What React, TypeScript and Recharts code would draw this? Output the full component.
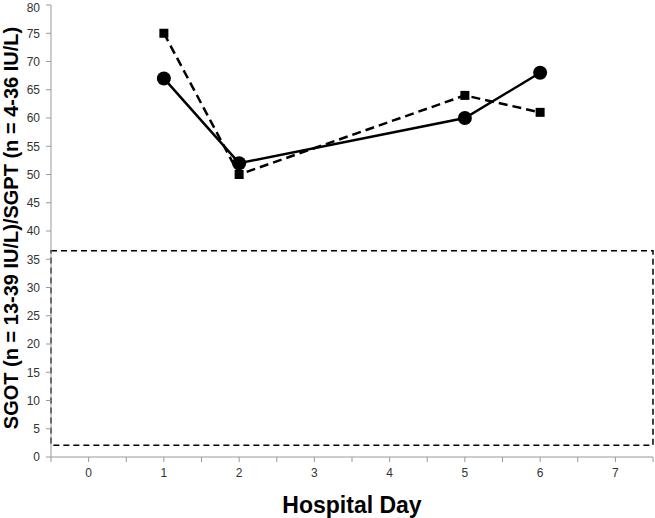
import { LineChart, Line, XAxis, YAxis, ReferenceArea } from 'recharts';

const days = [1, 2, 5, 6];
const sgot = [67, 52, 60, 68];
const sgpt = [75, 50, 64, 61];
const normalBand = [2.1, 36.5];
const xTicks = [-0.5, 0, 0.5, 1, 1.5, 2, 2.5, 3, 3.5, 4, 4.5, 5, 5.5, 6, 6.5, 7, 7.5];
const yTicks = [0, 5, 10, 15, 20, 25, 30, 35, 40, 45, 50, 55, 60, 65, 70, 75, 80];

const data = days.map((d, i) => ({ day: d, sgot: sgot[i], sgpt: sgpt[i] }));

const FONT = '"Liberation Sans", Arial, sans-serif';

function SquareDot({ cx, cy }: { cx?: number; cy?: number }) {
  if (cx == null || cy == null) return null;
  return <rect x={cx - 4.5} y={cy - 4.5} width={9} height={9} fill="#000" />;
}

export default function App() {
  return (
    <div style={{ position: 'absolute', left: 0, top: 0, background: '#fff' }}>
      <LineChart
        width={655}
        height={518}
        data={data}
        margin={{ top: 5, right: 2, bottom: 0, left: 0 }}
        style={{ fontFamily: FONT }}
      >
        <XAxis
          dataKey="day"
          type="number"
          domain={[-0.5, 7.5]}
          ticks={xTicks}
          tickFormatter={(v: number) => (Number.isInteger(v) ? String(v) : '')}
          height={61}
          stroke="#999"
          tickSize={5}
          tickMargin={6}
          tick={{ fill: '#333', fontSize: 12 }}
          allowDataOverflow
          label={{
            value: 'Hospital Day',
            position: 'insideBottom',
            offset: 5,
            style: { fontSize: 23, fontWeight: 'bold', fill: '#000' },
          }}
        />
        <YAxis
          domain={[0, 80]}
          ticks={yTicks}
          width={51}
          stroke="#999"
          tickSize={5}
          tickMargin={6}
          tick={{ fill: '#333', fontSize: 12 }}
          label={{
            value: 'SGOT (n = 13-39 IU/L)/SGPT (n = 4-36 IU/L)',
            angle: -90,
            position: 'insideLeft',
            offset: 11,
            dy: -3,
            style: { textAnchor: 'middle', fontSize: 20, fontWeight: 'bold', fill: '#000' },
          }}
        />
        <ReferenceArea
          x1={-0.5}
          x2={7.5}
          y1={normalBand[0]}
          y2={normalBand[1]}
          fill="none"
          fillOpacity={0}
          stroke="#000"
          strokeWidth={1.5}
          strokeDasharray="6 4"
          ifOverflow="visible"
        />
        <Line
          dataKey="sgpt"
          stroke="#000"
          strokeWidth={2.5}
          strokeDasharray="9 5"
          dot={<SquareDot />}
          activeDot={false}
          isAnimationActive={false}
        />
        <Line
          dataKey="sgot"
          stroke="#000"
          strokeWidth={2.5}
          dot={{ r: 7, fill: '#000', stroke: '#000', strokeWidth: 0 }}
          activeDot={false}
          isAnimationActive={false}
        />
      </LineChart>
    </div>
  );
}
